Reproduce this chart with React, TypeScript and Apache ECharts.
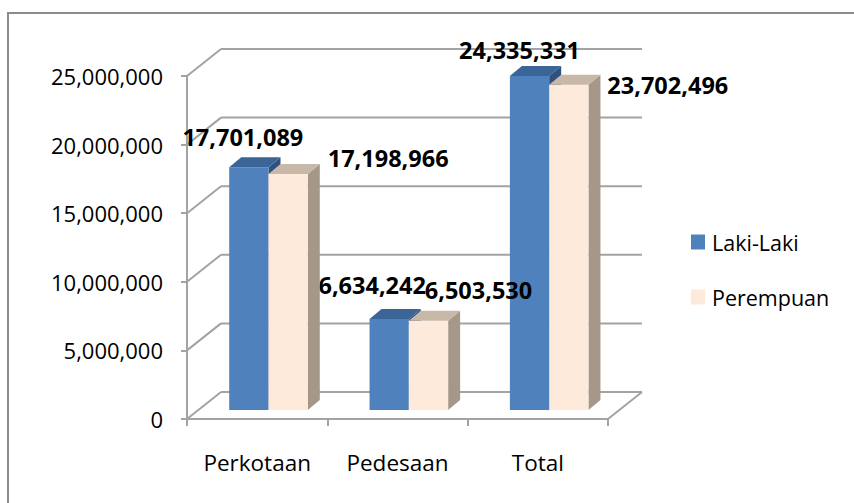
import React, { useEffect, useRef } from "react";
import * as echarts from "echarts";

const categories = ["Perkotaan", "Pedesaan", "Total"];
const lakiLaki = [17701089, 6634242, 24335331];
const perempuan = [17198966, 6503530, 23702496];
const yTicks = [0, 5000000, 10000000, 15000000, 20000000, 25000000];
const seriesNames = ["Laki-Laki", "Perempuan"];

// label offsets relative to bar top-front centre (layout, not data)
const labelOffsets = [
  [[-6, -30], [-17, -34], [-10, -26]],
  [[100, -16], [50, -31], [99, 0]],
];

const FONT = "'Open Sans', 'Noto Sans', sans-serif";
const DEPTH = [34, -27];
const FRONT = [DEPTH[0] / 3, DEPTH[1] / 3];
const BAR_DEPTH = [12, -10];
const GRID_COLOR = "#A3A3A3";

const faceColors = [
  { front: "#4F81BD", top: "#3A6596", side: "#2E5180" },
  { front: "#FDEADA", top: "#C8B8A8", side: "#A59889" },
];

const fmt = (v: number) => v.toLocaleString("en-US");

export default function App() {
  const ref = useRef<HTMLDivElement>(null);
  useEffect(() => {
    if (!ref.current) return;
    const chart = echarts.init(ref.current, null, { renderer: "svg" });

    const barSeries = (si: number, values: number[]) => ({
      type: "custom",
      name: seriesNames[si],
      itemStyle: { color: faceColors[si].front },
      encode: { x: 0, y: 1 },
      data: values.map((v, i) => [i, v]),
      z: 10 + si,
      renderItem: (params: any, api: any) => {
        const i = api.value(0);
        const v = api.value(1);
        const base = api.coord([i, 0]);
        const top = api.coord([i, v]);
        const band = api.size([1, 0])[0];
        const w = band * 0.28;
        const x0 = base[0] + FRONT[0] + (si === 0 ? -w : 0);
        const yb = base[1] + FRONT[1];
        const yt = top[1] + FRONT[1];
        const [dx, dy] = BAR_DEPTH;
        const c = faceColors[si];
        const off = labelOffsets[si][i];
        return {
          type: "group",
          children: [
            {
              type: "polygon",
              shape: { points: [[x0 + w, yt], [x0 + w + dx, yt + dy], [x0 + w + dx, yb + dy], [x0 + w, yb]] },
              style: { fill: c.side },
            },
            {
              type: "rect",
              shape: { x: x0, y: yt, width: w, height: yb - yt },
              style: { fill: c.front },
            },
            {
              type: "polygon",
              shape: { points: [[x0, yt], [x0 + w, yt], [x0 + w + dx, yt + dy], [x0 + dx, yt + dy]] },
              style: { fill: c.top },
            },
            {
              type: "text",
              x: x0 + w / 2 + off[0],
              y: yt + off[1],
              z2: 100,
              style: {
                text: fmt(v),
                fill: "#000",
                font: `bold 23.5px ${FONT}`,
                align: "center",
                verticalAlign: "middle",
              },
            },
          ],
        };
      },
    });

    const option: any = {
      animation: false,
      backgroundColor: "#fff",
      graphic: [
        {
          type: "rect",
          shape: { x: 8, y: 13, width: 900, height: 600 },
          style: { fill: "none", stroke: "#8C8C8C", lineWidth: 2 },
          silent: true,
        },
      ],
      grid: { left: 187, right: 246, top: 76, bottom: 84 },
      legend: {
        orient: "vertical",
        left: 686,
        top: 226,
        itemWidth: 14,
        itemHeight: 15,
        itemGap: 33,
        icon: "rect",
        data: seriesNames,
        textStyle: { fontFamily: FONT, fontSize: 21.5, color: "#000", padding: [0, 0, 0, 2] },
      },
      xAxis: {
        type: "category",
        data: categories,
        axisLine: { show: true, lineStyle: { color: GRID_COLOR, width: 2 } },
        axisTick: { show: true, length: 7, lineStyle: { color: GRID_COLOR, width: 2 } },
        axisLabel: { fontFamily: FONT, fontSize: 22.5, color: "#000", margin: 32 },
        splitLine: { show: false },
      },
      yAxis: {
        type: "value",
        min: 0,
        max: 25000000,
        interval: 5000000,
        axisLine: { show: true, lineStyle: { color: GRID_COLOR, width: 2 } },
        axisTick: { show: true, length: 6, lineStyle: { color: GRID_COLOR, width: 2 } },
        axisLabel: {
          fontFamily: FONT,
          fontSize: 22,
          color: "#000",
          margin: 24,
          formatter: (v: number) => fmt(v),
        },
        splitLine: { show: false },
      },
      series: [
        {
          type: "custom",
          name: "grid3d",
          silent: true,
          encode: { x: 0, y: 1 },
          data: yTicks.map((t) => [0, t]),
          z: 1,
          renderItem: (params: any, api: any) => {
            const cs = params.coordSys;
            const v = api.value(1);
            const y = api.coord([0, v])[1];
            const left = cs.x;
            const right = cs.x + cs.width;
            const [dx, dy] = DEPTH;
            const ls = { stroke: GRID_COLOR, lineWidth: 2 };
            const children: any[] = [
              { type: "line", shape: { x1: left, y1: y, x2: left + dx, y2: y + dy }, style: ls },
              { type: "line", shape: { x1: left + dx, y1: y + dy, x2: right + dx, y2: y + dy }, style: ls },
            ];
            if (v === 0) {
              children.push({ type: "line", shape: { x1: right, y1: y, x2: right + dx, y2: y + dy }, style: ls });
            }
            return { type: "group", children };
          },
        },
        barSeries(0, lakiLaki),
        barSeries(1, perempuan),
      ],
    };
    chart.setOption(option);
    return () => chart.dispose();
  }, []);
  return (
    <div
      ref={ref}
      style={{ position: "fixed", left: 0, top: 0, width: 854, height: 503, background: "#fff" }}
    />
  );
}
